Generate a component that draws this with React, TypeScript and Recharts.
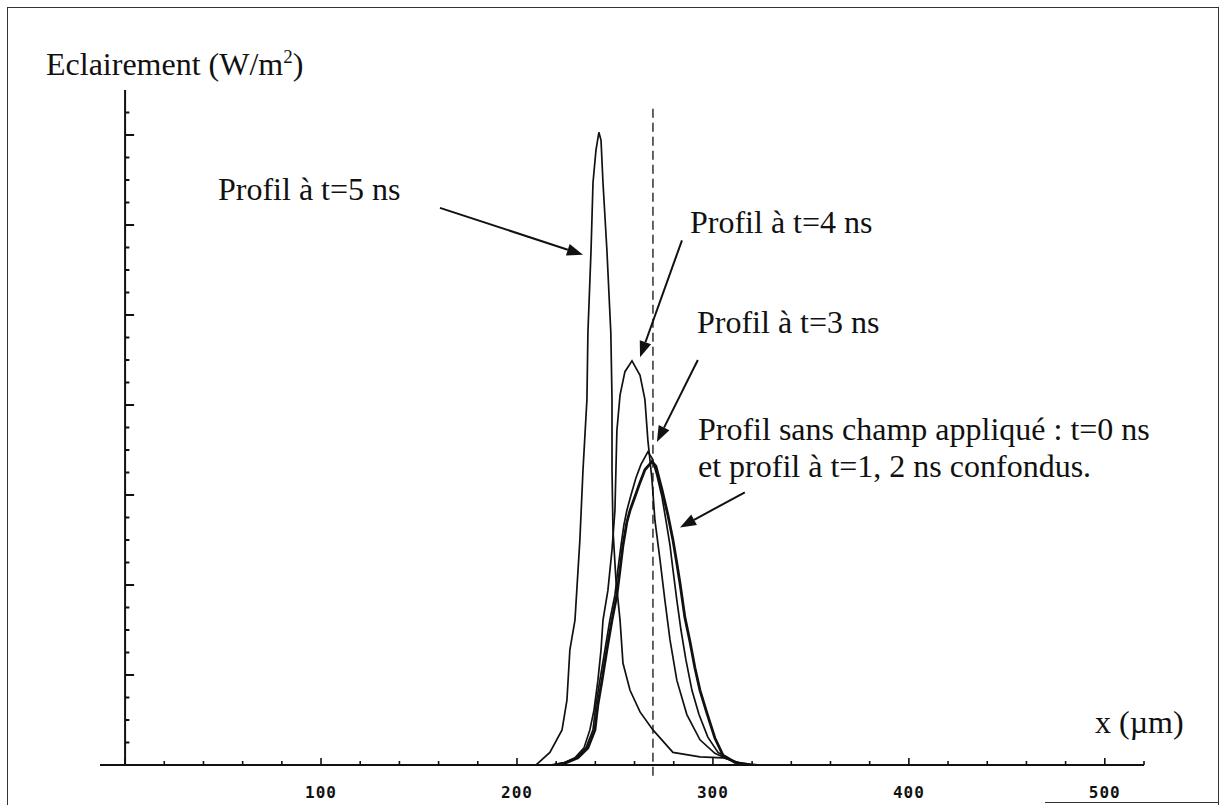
import React from 'react'
import { LineChart, Line, XAxis, YAxis, ReferenceLine } from 'recharts'

// profil a t=5 ns
const t5X = [209.7, 216.8, 223.0, 225.5, 227.0, 229.6, 232.1, 233.7, 235.7, 236.2, 237.8, 238.8, 240.3, 241.8,
  242.9, 243.9, 245.9, 247.9, 248.5, 248.5, 249.0, 250.5, 252.6, 254.1, 257.7, 262.8, 269.4, 279.6, 293.4, 305.1, 313.8, 324.0]
const t5Y = [0, 0.14, 0.39, 0.72, 1.28, 1.61, 2.5, 3.28, 4.06, 4.8, 5.72, 6.47, 6.83, 7.03,
  6.94, 6.47, 5.72, 4.8, 4.06, 3.28, 2.61, 2.06, 1.61, 1.13, 0.83, 0.59, 0.39, 0.14, 0.09, 0.08, 0.02, 0]

// profil a t=4 ns
const t4X = [216.8, 223.5, 229.6, 234.2, 237.2, 239.3, 241.3, 242.9, 243.9, 246.4, 248.5, 250.0, 250.5, 251.0, 252.6, 255.1, 258.7,
  262.8, 265.3, 266.8, 268.9, 270.4, 273.0, 275.5, 278.1, 281.6, 286.7, 293.4, 301.0, 311.2, 318.9]
const t4Y = [0, 0.02, 0.08, 0.19, 0.39, 0.61, 0.94, 1.28, 1.61, 1.94, 2.39, 2.83, 3.28, 3.72, 4.11, 4.37, 4.49,
  4.33, 4.06, 3.61, 3.17, 2.72, 2.28, 1.83, 1.39, 0.94, 0.56, 0.28, 0.13, 0.03, 0]

// profil a t=3 ns
const t3X = [217.9, 223.5, 230.1, 235.2, 238.8, 240.3, 242.3, 244.9, 247.4, 250.0, 251.5, 253.1, 254.6, 256.1, 258.2, 260.7, 263.3, 266.8,
  268.9, 271.4, 274.0, 276.0, 278.1, 279.6, 281.6, 283.7, 286.2, 289.3, 292.9, 297.4, 302.6, 308.7, 316.3]
const t3Y = [0, 0.02, 0.08, 0.19, 0.39, 0.67, 0.94, 1.28, 1.61, 1.89, 2.17, 2.44, 2.67, 2.83, 3.0, 3.19, 3.34, 3.48,
  3.41, 3.22, 2.98, 2.72, 2.44, 2.17, 1.83, 1.5, 1.17, 0.83, 0.56, 0.31, 0.14, 0.06, 0]

// sans champ (t=0) et t=1, 2 ns confondus
const t0X = [219.4, 224.5, 231.1, 236.2, 239.8, 241.3, 243.4, 245.9, 248.5, 251.0, 252.6, 254.1, 256.1, 257.7, 260.2, 262.8, 265.3, 268.9,
  270.9, 274.0, 277.0, 279.6, 281.6, 283.2, 285.7, 288.3, 290.8, 293.4, 296.9, 301.0, 305.1, 311.2, 318.9]
const t0Y = [0, 0.02, 0.08, 0.19, 0.39, 0.67, 0.94, 1.28, 1.61, 1.89, 2.17, 2.44, 2.7, 2.83, 2.98, 3.14, 3.28, 3.37,
  3.32, 3.06, 2.78, 2.5, 2.24, 2.02, 1.64, 1.37, 1.08, 0.83, 0.58, 0.3, 0.11, 0.03, 0]

const xTicks = [0, 20, 40, 60, 80, 100, 120, 140, 160, 180, 200, 220, 240, 260, 280, 300, 320, 340, 360, 380, 400,
  420, 440, 460, 480, 500, 520]
const yTicks = Array.from({ length: 29 }, (_, i) => (i + 1) * 0.25)

const centreX = 269.4

// arrows: [fromX, fromY, tipX, tipY]
const arrows = [
  [160.7, 6.19, 233.7, 5.67],
  [284.2, 5.83, 262.8, 4.53],
  [292.3, 4.5, 271.4, 3.59],
  [316.3, 3.03, 283.2, 2.64],
]

const pts = (xs: number[], ys: number[]) => xs.map((x, i) => ({ x, v: ys[i] }))

const INK = '#111'
const SERIF = '"Liberation Serif", "Times New Roman", serif'

function XTick(props: any) {
  const { x, y, payload } = props
  const major = payload.value % 100 === 0
  return (
    <g>
      <line x1={x} x2={x} y1={y} y2={y - (major ? 7 : 4)} stroke={INK} strokeWidth={1.6} />
      {major && payload.value > 0 && (
        <text x={x} y={y + 33} textAnchor="middle" fontFamily='"DejaVu Sans Mono", monospace'
          fontSize={16} fontWeight="bold" letterSpacing={1} fill={INK}>{payload.value}</text>
      )}
    </g>
  )
}

function Arrow(props: any) {
  const x1 = Number(props.x1), y1 = Number(props.y1), x2 = Number(props.x2), y2 = Number(props.y2)
  const a = Math.atan2(y2 - y1, x2 - x1)
  const L = 16, W = 6
  const bx = x2 - L * Math.cos(a), by = y2 - L * Math.sin(a)
  const p = `${x2},${y2} ${bx + W * Math.sin(a)},${by - W * Math.cos(a)} ${bx - W * Math.sin(a)},${by + W * Math.cos(a)}`
  return (
    <g>
      <line x1={x1} y1={y1} x2={bx} y2={by} stroke={INK} strokeWidth={2} />
      <polygon points={p} fill={INK} />
    </g>
  )
}

export default function App() {
  return (
    <div style={{ position: 'absolute', left: 0, top: 0, width: 1219, height: 805, background: '#fff', overflow: 'hidden' }}>
      <div style={{ position: 'absolute', left: 7, top: 7, width: 1210, height: 820, border: '1px solid #333' }} />
      <div style={{ position: 'absolute', left: 1045, top: 802, width: 173, height: 1, background: '#333' }} />
      <LineChart width={1219} height={805} margin={{ top: 90, right: 75, bottom: 10, left: 100 }}>
        <XAxis type="number" dataKey="x" domain={[-12.8, 520]} ticks={xTicks} interval={0} allowDataOverflow
          tick={<XTick />} tickLine={false} tickSize={0} tickMargin={0} height={30}
          axisLine={{ stroke: INK, strokeWidth: 2 }} />
        <YAxis hide width={0} type="number" domain={[0, 7.5]} allowDataOverflow />

        <ReferenceLine segment={[{ x: 0, y: 0 }, { x: 0, y: 7.5 }]} stroke={INK} strokeWidth={2} />
        {yTicks.map((v) => (
          <ReferenceLine key={v} segment={[{ x: 0, y: v }, { x: v % 1 === 0 ? 4.6 : 2.2, y: v }]}
            stroke={INK} strokeWidth={2} />
        ))}
        <ReferenceLine segment={[{ x: centreX, y: -0.12 }, { x: centreX, y: 7.33 }]} ifOverflow="visible"
          stroke={INK} strokeWidth={1.3} strokeDasharray="9 5" />

        <Line data={pts(t0X, t0Y)} dataKey="v" type="linear" dot={false} activeDot={false}
          stroke={INK} strokeWidth={2.8} isAnimationActive={false} />
        <Line data={pts(t3X, t3Y)} dataKey="v" type="linear" dot={false} activeDot={false}
          stroke={INK} strokeWidth={1.7} isAnimationActive={false} />
        <Line data={pts(t4X, t4Y)} dataKey="v" type="linear" dot={false} activeDot={false}
          stroke={INK} strokeWidth={1.7} isAnimationActive={false} />
        <Line data={pts(t5X, t5Y)} dataKey="v" type="linear" dot={false} activeDot={false}
          stroke={INK} strokeWidth={1.7} isAnimationActive={false} />

        {arrows.map((a, i) => (
          <ReferenceLine key={'a' + i} segment={[{ x: a[0], y: a[1] }, { x: a[2], y: a[3] }]}
            ifOverflow="visible" shape={(p: any) => <Arrow {...p} />} />
        ))}
      </LineChart>

      <svg width={1219} height={805} style={{ position: 'absolute', left: 0, top: 0, pointerEvents: 'none' }}>
        <g fontFamily={SERIF} fontSize={32} fill={INK}>
          <text x={46} y={75}>Eclairement (W/m<tspan dy={-12} fontSize={19}>2</tspan><tspan dy={12}>)</tspan></text>
          <text x={218} y={200}>Profil à t=5 ns</text>
          <text x={690} y={233}>Profil à t=4 ns</text>
          <text x={697} y={333}>Profil à t=3 ns</text>
          <text x={698} y={440}>Profil sans champ appliqué : t=0 ns</text>
          <text x={698} y={477}>et profil à t=1, 2 ns confondus.</text>
          <text x={1095} y={733}>x (µm)</text>
        </g>
      </svg>
    </div>
  )
}
